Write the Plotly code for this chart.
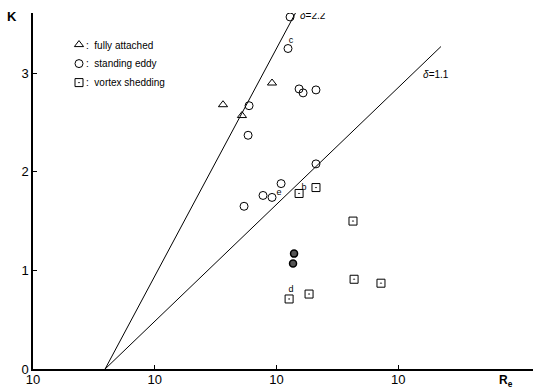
import plotly.graph_objects as go

# ---- data ----
attached_re = [364, 521, 920]
attached_k = [2.68, 2.57, 2.90]

eddy_re = [1294, 1245, 596, 585, 1535, 1656, 2113, 2113, 1092, 776, 920, 542]
eddy_k = [3.57, 3.25, 2.67, 2.37, 2.84, 2.80, 2.83, 2.08, 1.88, 1.76, 1.74, 1.65]

filled_re = [1396, 1369]
filled_k = [1.17, 1.07]

shedding_re = [1535, 2113, 4256, 1271, 1854, 4345, 7228]
shedding_k = [1.78, 1.84, 1.50, 0.71, 0.76, 0.91, 0.87]

re_critical = 39.1
line22_re = [re_critical, 1507]
line22_k = [0, 3.66]
line11_re = [re_critical, 22490]
line11_k = [0, 3.27]

delta_labels = ["<i>δ</i>=2.2", "<i>δ</i>=1.1"]
delta_re = [1563, 16030]
delta_k = [3.57, 2.98]

point_labels = ["c", "e", "b", "d"]
label_re = [1318, 1050, 1686, 1318]
label_k = [3.33, 1.79, 1.84, 0.80]

legend_texts = [":  fully attached", ":  standing eddy", ":  vortex shedding"]

x_tick_vals = [10, 100, 1000, 10000]
x_tick_text = ["10", "10", "10", "10"]
k_ticks = [0, 1, 2, 3]

FONT = "Liberation Sans, Arial, sans-serif"

fig = go.Figure()

fig.add_trace(go.Scatter(x=line22_re, y=line22_k, mode="lines",
                         line=dict(color="black", width=1), showlegend=False))
fig.add_trace(go.Scatter(x=line11_re, y=line11_k, mode="lines",
                         line=dict(color="black", width=1), showlegend=False))

fig.add_trace(go.Scatter(x=attached_re, y=attached_k, mode="markers",
                         name="",
                         marker=dict(symbol="triangle-up-open", size=8,
                                     color="black", line=dict(width=1))))
fig.add_trace(go.Scatter(x=eddy_re, y=eddy_k, mode="markers",
                         name="",
                         marker=dict(symbol="circle-open", size=8,
                                     color="black", line=dict(width=1))))
fig.add_trace(go.Scatter(x=shedding_re, y=shedding_k, mode="markers",
                         name="",
                         marker=dict(symbol="square-open-dot", size=8,
                                     color="black", line=dict(width=1))))
fig.add_trace(go.Scatter(x=filled_re, y=filled_k, mode="markers",
                         showlegend=False,
                         marker=dict(symbol="circle", size=7, color="#555555",
                                     line=dict(width=1.5, color="black"))))

fig.add_trace(go.Scatter(x=delta_re, y=delta_k, mode="text", text=delta_labels,
                         textposition="middle right", showlegend=False,
                         textfont=dict(family=FONT, size=10, color="black")))
fig.add_trace(go.Scatter(x=label_re, y=label_k, mode="text", text=point_labels,
                         textposition="middle center", showlegend=False,
                         textfont=dict(family=FONT, size=9, color="black")))

legend_y = [0.910, 0.858, 0.806]
annotations = [
    dict(text="<b>K</b>", xref="paper", yref="paper", x=-0.042, y=0.99,
         xanchor="center", yanchor="middle", showarrow=False,
         font=dict(family=FONT, size=13, color="black")),
    dict(text="<b>R<sub>e</sub></b>", xref="paper", yref="paper", x=0.945, y=-0.035,
         xanchor="center", yanchor="middle", showarrow=False,
         font=dict(family=FONT, size=12, color="black")),
]
for txt, yy in zip(legend_texts, legend_y):
    annotations.append(dict(text=txt, xref="paper", yref="paper", x=0.102, y=yy,
                            xanchor="left", yanchor="middle", showarrow=False,
                            font=dict(family=FONT, size=10, color="black")))

fig.update_layout(
    width=533, height=392,
    margin=dict(l=33, r=0, t=13, b=23),
    paper_bgcolor="white", plot_bgcolor="white",
    font=dict(family=FONT, size=12, color="black"),
    showlegend=True,
    legend=dict(x=0.052, y=0.952, xanchor="left", yanchor="top",
                bgcolor="rgba(0,0,0,0)", itemwidth=30,
                font=dict(family=FONT, size=10, color="black"),
                tracegroupgap=0),
    xaxis=dict(type="log", range=[1.0, 5.108], showgrid=False, zeroline=False,
               showline=True, linecolor="black", linewidth=1.5,
               ticks="inside", ticklen=4, tickcolor="black",
               tickvals=x_tick_vals, ticktext=x_tick_text,
               ticklabelstandoff=-2,
               tickfont=dict(family=FONT, size=13, color="black")),
    yaxis=dict(range=[0, 3.61], showgrid=False, zeroline=False,
               showline=True, linecolor="black", linewidth=1.5,
               ticks="inside", ticklen=4, tickcolor="black",
               tickvals=k_ticks, ticktext=[str(v) for v in k_ticks],
               tickfont=dict(family=FONT, size=13, color="black")),
    annotations=annotations,
)

fig.write_html("out.html",
               config={"displayModeBar": False},
               post_script="document.body.style.margin='0';document.body.style.overflow='hidden';")
